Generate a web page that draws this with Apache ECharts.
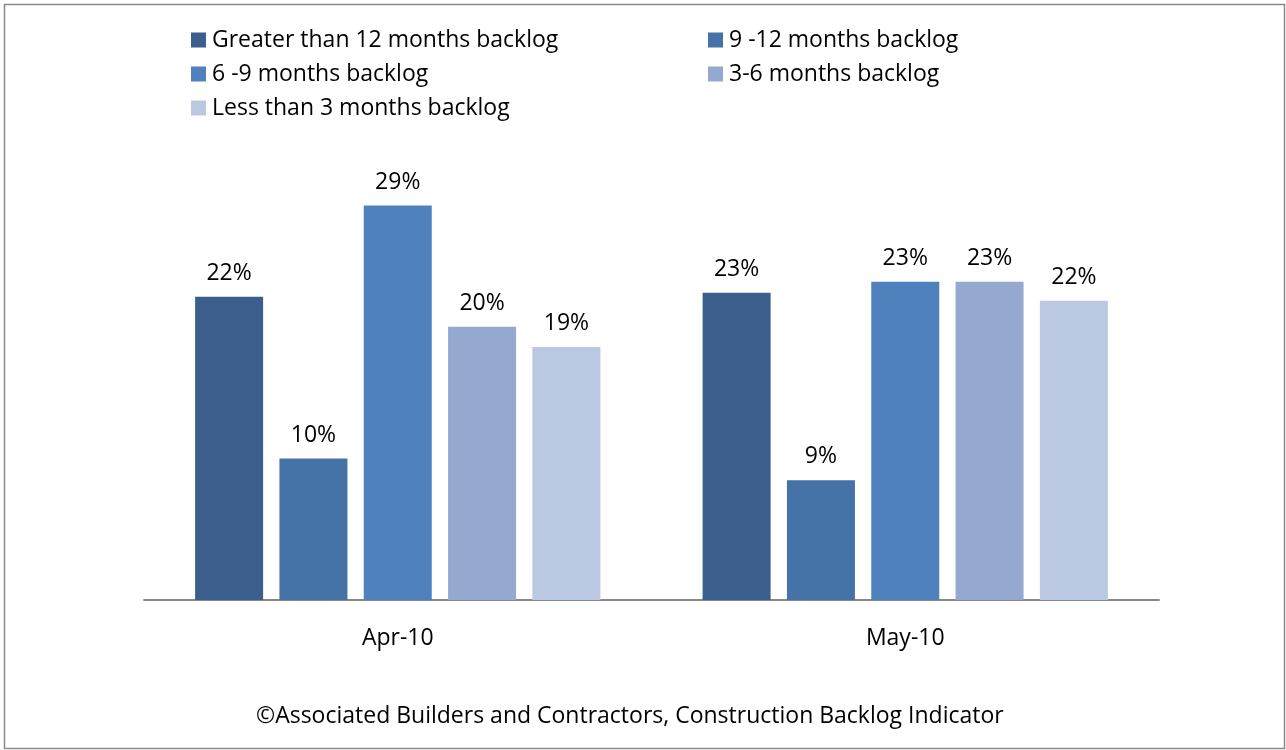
<!DOCTYPE html>
<html>
<head>
<meta charset="utf-8">
<script src="https://cdn.jsdelivr.net/npm/echarts@6/dist/echarts.min.js"></script>
<style>
html, body { margin: 0; padding: 0; background: #fff; }
#chart { width: 1286px; height: 750px; }
</style>
</head>
<body>
<div id="chart"></div>
<script>
var categories = ['Apr-10', 'May-10'];
var seriesNames = ['Greater than 12 months backlog', '9 -12 months backlog', '6 -9 months backlog', '3-6 months backlog', 'Less than 3 months backlog'];
var greater12 = [22.3, 22.6];
var m9to12 = [10.4, 8.8];
var m6to9 = [29.0, 23.4];
var m3to6 = [20.1, 23.4];
var less3 = [18.6, 22.0];
var seriesData = [greater12, m9to12, m6to9, m3to6, less3];
var colors = ['#3b5e8c', '#4572a7', '#4f81bd', '#95a9d0', '#bac8e1'];

var fontFamily = '"Open Sans", Lato, sans-serif';
var fontSize = 23;

var chart = echarts.init(document.getElementById('chart'));

// legend placed as two columns, one legend per item
var legendPos = [[191, 40], [708, 40], [191, 74], [708, 74], [191, 108]];
var legends = [];
for (var i = 0; i < seriesNames.length; i++) {
	legends.push({
		data: [seriesNames[i]],
		left: legendPos[i][0],
		top: legendPos[i][1] - 12,
		padding: 0,
		icon: 'rect',
		itemWidth: 15,
		itemHeight: 15,
		selectedMode: false,
		textStyle: { fontFamily: fontFamily, fontSize: fontSize, color: '#000', lineHeight: 24, padding: [0, 0, 0, 1] }
	});
}

var series = [];
for (var i = 0; i < seriesNames.length; i++) {
	series.push({
		name: seriesNames[i],
		type: 'bar',
		data: seriesData[i],
		barWidth: 68,
		barGap: '24%',
		itemStyle: { color: colors[i] },
		label: {
			show: true,
			position: 'top',
			distance: 12,
			color: '#000',
			fontFamily: fontFamily,
			fontSize: fontSize,
			formatter: function (p) { return Math.round(p.value) + '%'; }
		}
	});
}

var option = {
	animation: false,
	color: colors,
	title: {
		text: '©Associated Builders and Contractors, Construction Backlog Indicator',
		left: 256,
		top: 705,
		padding: 0,
		textStyle: { fontFamily: fontFamily, fontSize: fontSize, fontWeight: 'normal', color: '#000' }
	},
	legend: legends,
	grid: { left: 144, right: 127, top: 124, bottom: 150, containLabel: false },
	xAxis: {
		type: 'category',
		data: categories,
		axisLine: { lineStyle: { color: '#888', width: 2 } },
		axisTick: { show: false },
		axisLabel: { color: '#000', fontFamily: fontFamily, fontSize: fontSize, margin: 27 }
	},
	yAxis: {
		type: 'value',
		min: 0,
		max: 35,
		show: false,
		splitLine: { show: false }
	},
	graphic: [{
		type: 'rect',
		shape: { x: 4.5, y: 4.5, width: 1280, height: 744 },
		style: { fill: 'none', stroke: '#8a8a8a', lineWidth: 1.5 },
		silent: true
	}],
	series: series
};

chart.setOption(option);
</script>
</body>
</html>
